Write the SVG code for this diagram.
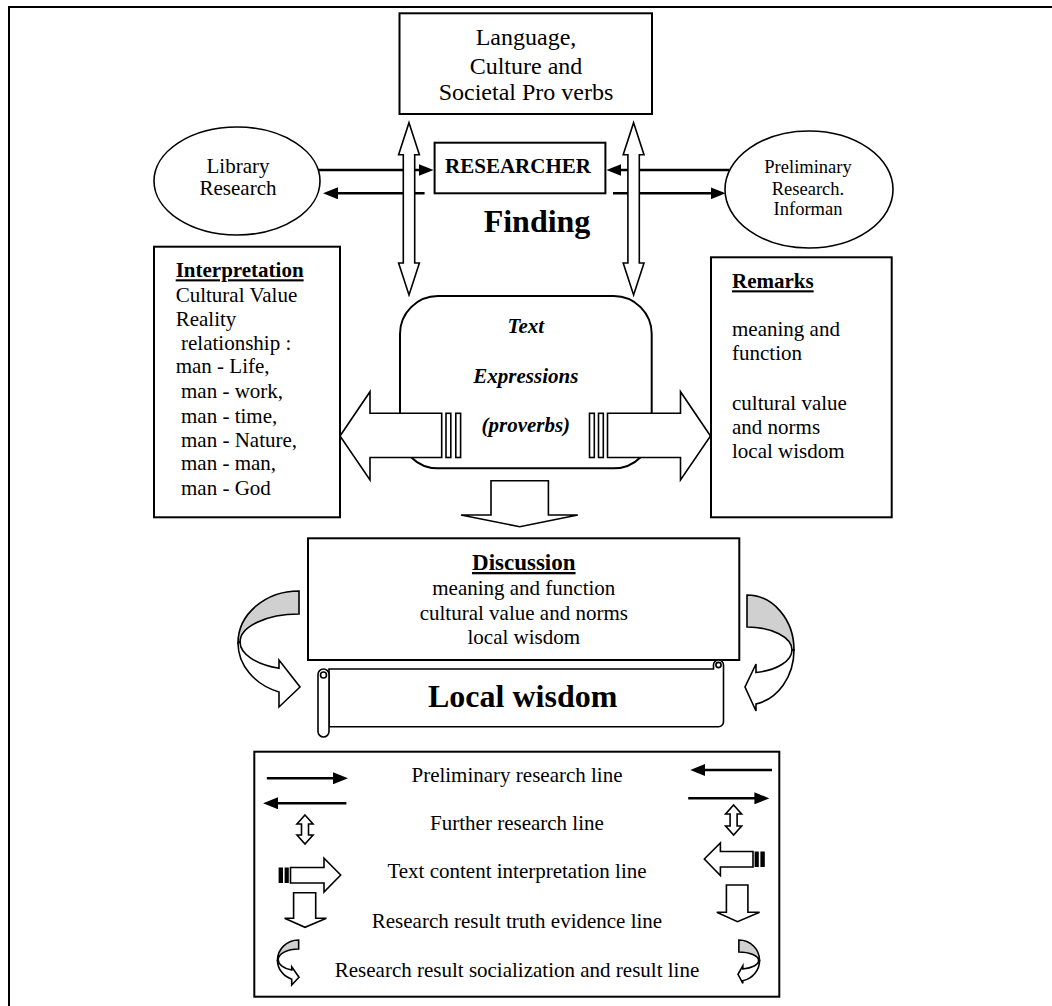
<svg xmlns="http://www.w3.org/2000/svg" width="1052" height="1006" viewBox="0 0 1052 1006">
<style>
  text { font-family: "Liberation Serif", "Times New Roman", serif; fill: #000; }
  .t21 { font-size: 21px; }
  .t24 { font-size: 24px; }
  .mid { text-anchor: middle; }
  .b { font-weight: bold; }
  .u { text-decoration: underline; }
  .box { fill: #fff; stroke: #000; stroke-width: 2; }
  .thin { fill: #fff; stroke: #000; stroke-width: 1.6; }
  .hollow { fill: #fff; stroke: #000; stroke-width: 1.6; stroke-linejoin: miter; }
  .gray { fill: #d0d0d0; stroke: #000; stroke-width: 1.6; }
  .line { fill: none; stroke: #000; stroke-width: 2.6; }
  .ns { vector-effect: non-scaling-stroke; }
</style>
<defs>
  <marker id="ah" viewBox="0 0 15 12" refX="1" refY="6" markerWidth="15" markerHeight="12" markerUnits="userSpaceOnUse" orient="auto">
    <path d="M0,0 L15,6 L0,12 Z" fill="#000"/>
  </marker>
  <g id="curveL">
    <path class="gray ns" d="M299,591 A61,52 0 0,0 238,643 L240,642 A59,28 0 0,1 299,614 Z"/>
    <path class="hollow ns" d="M240,642 A59,28 0 0,0 279,668.3 L279,660 L300,687 L279,707 L279,692 A61,52 0 0,1 238,643 Z"/>
  </g>
  <g id="curveR">
    <path class="gray ns" d="M747,595 A47,55 0 0,1 794,650 L792,650 A45,23 0 0,0 747,627 Z"/>
    <path class="hollow ns" d="M792,650 A45,23 0 0,1 756,672.5 L756,664 L745,687 L756,711 L756,704 A47,55 0 0,0 794,650 Z"/>
  </g>
</defs>

<rect width="1052" height="1006" fill="#fff"/>
<path d="M9,1006 L9,7 L1052,7" fill="none" stroke="#000" stroke-width="2"/>

<!-- Nodes -->
<g id="node-language">
  <rect class="box" x="399.5" y="13.3" width="252.5" height="100.7"/>
  <text class="t24 mid" x="526" y="45">Language,</text>
  <text class="t24 mid" x="526" y="74">Culture and</text>
  <text class="t24 mid" x="526" y="100">Societal Pro verbs</text>
</g>

<g id="node-library">
  <ellipse class="thin" cx="237" cy="181" rx="83" ry="54"/>
  <text class="t21 mid" x="238" y="173.3">Library</text>
  <text class="t21 mid" x="238" y="195">Research</text>
</g>

<g id="node-preliminary">
  <ellipse class="thin" cx="809" cy="189.5" rx="84" ry="58.5"/>
  <text class="mid" style="font-size:18.5px" x="808" y="173.3">Preliminary</text>
  <text class="mid" style="font-size:18.5px" x="808" y="195">Research.</text>
  <text class="mid" style="font-size:18.5px" x="808" y="215">Informan</text>
</g>

<g id="node-researcher">
  <rect class="box" x="434.6" y="142.7" width="170.8" height="50.6"/>
  <text class="t21 mid b" x="518" y="172.7">RESEARCHER</text>
</g>

<g id="node-finding">
  <text class="mid b" style="font-size:32px" x="537" y="231.7">Finding</text>
</g>

<g id="node-interpretation">
  <rect class="box" x="154" y="246.7" width="186" height="270.6"/>
  <text class="t21 b u" x="175.7" y="277.3">Interpretation</text>
  <text class="t21" x="175.7" y="301.7">Cultural Value</text>
  <text class="t21" x="175.7" y="326">Reality</text>
  <text class="t21" x="181" y="350">relationship :</text>
  <text class="t21" x="175.7" y="373.3">man - Life,</text>
  <text class="t21" x="181" y="398.3">man - work,</text>
  <text class="t21" x="181" y="422.7">man - time,</text>
  <text class="t21" x="181" y="446.7">man - Nature,</text>
  <text class="t21" x="181" y="470">man - man,</text>
  <text class="t21" x="181" y="495">man - God</text>
</g>

<g id="node-remarks">
  <rect class="box" x="711" y="257.3" width="180.7" height="260"/>
  <text class="t21 b u" x="732" y="288.3">Remarks</text>
  <text class="t21" x="732" y="336">meaning and</text>
  <text class="t21" x="732" y="360">function</text>
  <text class="t21" x="732" y="410">cultural value</text>
  <text class="t21" x="732" y="434">and norms</text>
  <text class="t21" x="732" y="458.3">local wisdom</text>
</g>

<g id="node-text">
  <rect class="box" x="400" y="296" width="251.7" height="172.3" rx="38" ry="38"/>
  <text class="t21 mid b" font-style="italic" x="525.8" y="333.3">Text</text>
  <text class="t21 mid b" font-style="italic" x="525.8" y="383.3">Expressions</text>
  <text class="t21 mid b" font-style="italic" x="525.8" y="431.7">(proverbs)</text>
</g>

<g id="node-discussion">
  <rect class="box" x="308" y="538.3" width="431.3" height="121.7"/>
  <text class="mid b u" style="font-size:23px" x="523.8" y="570">Discussion</text>
  <text class="t21 mid" x="523.8" y="595">meaning and function</text>
  <text class="t21 mid" x="523.8" y="620">cultural value and norms</text>
  <text class="t21 mid" x="523.8" y="644.3">local wisdom</text>
</g>

<g id="node-localwisdom">
  <path class="thin" d="M329,669 L713.5,669 L713.5,665 A5,5 0 0 1 723.5,665 L723.5,721.7 A5,5 0 0 1 718.5,726.7 L329,726.7 Z"/>
  <circle class="thin" cx="718.5" cy="665" r="2.6"/>
  <rect class="thin" x="318" y="669" width="11" height="68" rx="5.5" ry="5.5"/>
  <circle class="thin" cx="323.5" cy="675" r="3"/>
  <text class="mid b" style="font-size:32px" x="522.7" y="706.7">Local wisdom</text>
</g>

<!-- Connectors -->
<g id="connectors">
  <line class="line" x1="318" y1="170" x2="419.6" y2="170" marker-end="url(#ah)"/>
  <line class="line" x1="424.6" y1="193.3" x2="337" y2="193.3" marker-end="url(#ah)"/>
  <line class="line" x1="729.5" y1="170" x2="620.4" y2="170" marker-end="url(#ah)"/>
  <line class="line" x1="613" y1="193.3" x2="711.6" y2="193.3" marker-end="url(#ah)"/>

  <path class="hollow" d="M409,122.7 L419.4,154.7 L414.7,154.7 L414.7,263 L419.4,263 L409,295 L398.6,263 L403.3,263 L403.3,154.7 L398.6,154.7 Z"/>
  <path class="hollow" d="M633.6,122.7 L644,154.7 L639.3,154.7 L639.3,263 L644,263 L633.6,295 L623.2,263 L627.9,263 L627.9,154.7 L623.2,154.7 Z"/>

  <g id="arrow-left-striped">
    <path class="hollow" d="M340,436 L370,391.7 L370,413.3 L441.7,413.3 L441.7,457.5 L370,457.5 L370,480 Z"/>
    <rect class="hollow" x="446" y="413.3" width="4.8" height="44.2"/>
    <rect class="hollow" x="455.8" y="413.3" width="4.8" height="44.2"/>
  </g>
  <g id="arrow-right-striped">
    <path class="hollow" d="M710.5,436 L680.5,391.7 L680.5,413.3 L607.5,413.3 L607.5,457.5 L680.5,457.5 L680.5,480 Z"/>
    <rect class="hollow" x="598.5" y="413.3" width="4.8" height="44.2"/>
    <rect class="hollow" x="589.5" y="413.3" width="4.8" height="44.2"/>
  </g>

  <path class="hollow" d="M491,480.7 L548.4,480.7 L548.4,515 L577.8,515 L519.7,526.7 L461,515 L491,515 Z"/>

  <use href="#curveL"/>
  <use href="#curveR"/>
</g>

<!-- Legend -->
<g id="legend">
  <rect class="box" x="254.3" y="751.7" width="525" height="245"/>
  <text class="t21 mid" x="517" y="781.7">Preliminary research line</text>
  <text class="t21 mid" x="517" y="830">Further research line</text>
  <text class="t21 mid" x="517" y="878.3">Text content interpretation line</text>
  <text class="t21 mid" x="517" y="928.3">Research result truth evidence line</text>
  <text class="t21 mid" x="517" y="976.7">Research result socialization and result line</text>

  <line class="line" x1="266.8" y1="778.3" x2="334" y2="778.3" marker-end="url(#ah)"/>
  <line class="line" x1="772" y1="770" x2="704.3" y2="770" marker-end="url(#ah)"/>
  <line class="line" x1="346.4" y1="803.3" x2="277.1" y2="803.3" marker-end="url(#ah)"/>
  <line class="line" x1="688.2" y1="798.3" x2="755.4" y2="798.3" marker-end="url(#ah)"/>

  <path class="hollow" d="M305,815 L313,824 L308.5,824 L308.5,835 L313,835 L305,844 L297,835 L301.5,835 L301.5,824 L297,824 Z"/>
  <path class="hollow" d="M733.6,805 L741.6,814 L737.1,814 L737.1,826 L741.6,826 L733.6,835 L725.6,826 L730.1,826 L730.1,814 L725.6,814 Z"/>

  <path class="hollow" d="M340.7,875 L324,858.3 L324,867.5 L290.5,867.5 L290.5,883 L324,883 L324,892 Z"/>
  <rect x="278.6" y="867.5" width="4.4" height="15.5" fill="#000"/>
  <rect x="284.6" y="867.5" width="4.2" height="15.5" fill="#000"/>
  <path class="hollow" d="M704.3,859 L720.4,843 L720.4,851.5 L753,851.5 L753,867 L720.4,867 L720.4,875.5 Z"/>
  <rect x="754.6" y="851.5" width="4.2" height="15.5" fill="#000"/>
  <rect x="760.4" y="851.5" width="4.4" height="15.5" fill="#000"/>

  <path class="hollow" d="M293.6,892.7 L315.7,892.7 L315.7,918.3 L326.4,918.3 L305,927.3 L284.6,918.3 L293.6,918.3 Z"/>
  <path class="hollow" d="M726.4,885 L747.9,885 L747.9,912.3 L759.6,912.3 L737.5,921.7 L716.8,912.3 L726.4,912.3 Z"/>

  <use href="#curveL" transform="translate(194.9,710.7) scale(0.347,0.388)"/>
  <use href="#curveR" transform="translate(410.2,718.1) scale(0.44,0.373)"/>
</g>
</svg>
